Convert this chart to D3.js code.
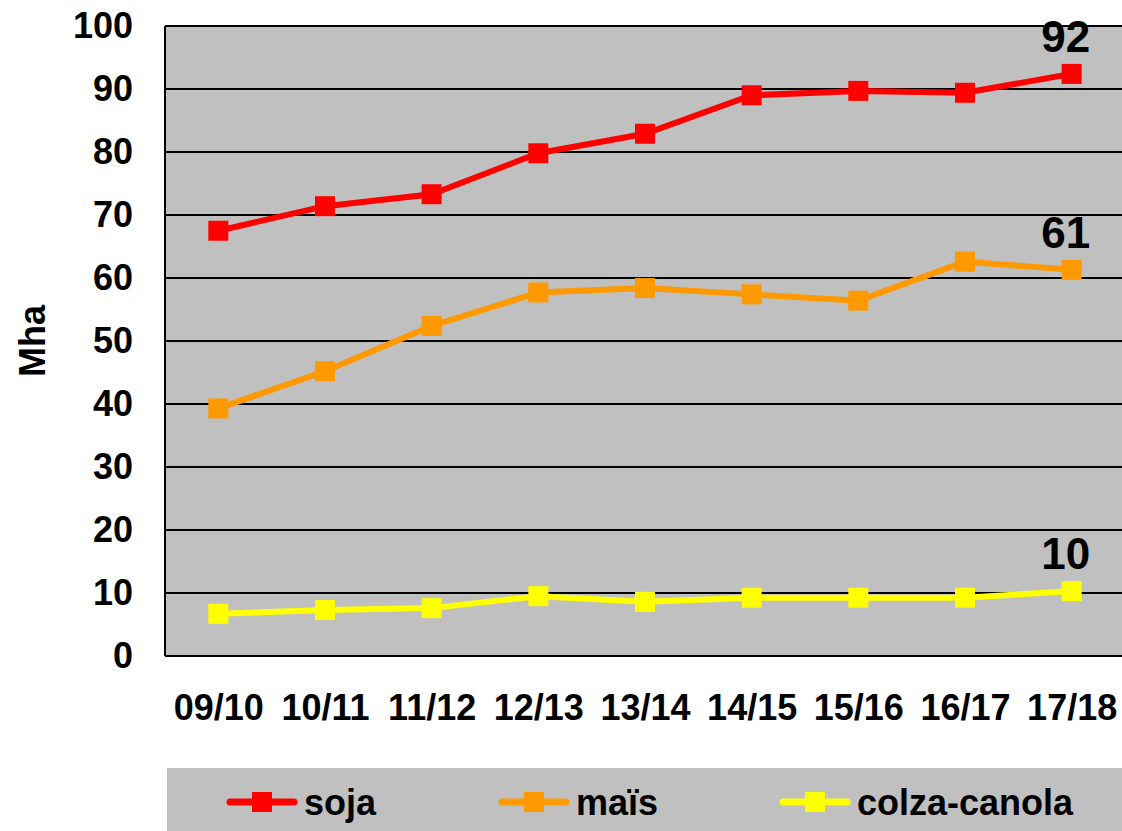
<!DOCTYPE html>
<html>
<head>
<meta charset="utf-8">
<script src="https://cdn.jsdelivr.net/npm/d3@7"></script>
<style>
    body { margin: 0; background: #fff; }
    svg { display: block; font-family: "Liberation Sans", Arial, sans-serif; font-weight: bold; }
</style>
</head>
<body>
<div id="chart-div"></div>
<script>
const campaigns = ["09/10", "10/11", "11/12", "12/13", "13/14", "14/15", "15/16", "16/17", "17/18"];
const soja = [67.5, 71.4, 73.3, 79.8, 82.9, 89.0, 89.7, 89.4, 92.4];
const mais = [39.3, 45.2, 52.4, 57.7, 58.4, 57.4, 56.4, 62.6, 61.3];
const colza = [6.7, 7.3, 7.6, 9.5, 8.6, 9.25, 9.25, 9.25, 10.3];
const yTicks = [0, 10, 20, 30, 40, 50, 60, 70, 80, 90, 100];
const endLabels = ["92", "61", "10"];

const WIDTH = 1122;
const HEIGHT = 831;
const PLOT_LEFT = 165;
const PLOT_RIGHT = 1125;
const PLOT_TOP = 26;
const PLOT_BOTTOM = 656;

const series = [
    { name: "soja", values: soja, color: "#ff0000", legendX: 230 },
    { name: "maïs", values: mais, color: "#ff9900", legendX: 502 },
    { name: "colza-canola", values: colza, color: "#ffff00", legendX: 783 }
];

let svg = d3.select("#chart-div")
    .append("svg")
    .attr("width", WIDTH)
    .attr("height", HEIGHT);

let xScale = d3.scalePoint()
    .domain(campaigns)
    .range([PLOT_LEFT, PLOT_RIGHT])
    .padding(0.5);

let yScale = d3.scaleLinear()
    .domain([0, 100])
    .range([PLOT_BOTTOM, PLOT_TOP]);

// plot background
svg.append("rect")
    .attr("x", PLOT_LEFT)
    .attr("y", PLOT_TOP)
    .attr("width", PLOT_RIGHT - PLOT_LEFT)
    .attr("height", PLOT_BOTTOM - PLOT_TOP)
    .attr("fill", "#c0c0c0");

// gridlines
svg.append("g")
    .selectAll("line")
    .data(yTicks)
    .enter()
    .append("line")
    .attr("x1", PLOT_LEFT)
    .attr("x2", PLOT_RIGHT)
    .attr("y1", d => yScale(d))
    .attr("y2", d => yScale(d))
    .attr("stroke", "#000")
    .attr("stroke-width", 2);

// left axis line
svg.append("line")
    .attr("x1", PLOT_LEFT)
    .attr("x2", PLOT_LEFT)
    .attr("y1", PLOT_TOP)
    .attr("y2", PLOT_BOTTOM)
    .attr("stroke", "#000")
    .attr("stroke-width", 2);

// y axis labels
let yAxis = svg.append("g")
    .attr("transform", "translate(" + PLOT_LEFT + ",0)")
    .call(d3.axisLeft(yScale).tickValues(yTicks).tickSize(0).tickPadding(32));
yAxis.select(".domain").remove();
yAxis.selectAll("text")
    .attr("font-size", 36)
    .attr("font-family", "Liberation Sans, Arial, sans-serif")
    .attr("font-weight", "bold")
    .attr("fill", "#000");

// x axis labels
let xAxis = svg.append("g")
    .attr("transform", "translate(0," + PLOT_BOTTOM + ")")
    .call(d3.axisBottom(xScale).tickSize(0).tickPadding(38));
xAxis.select(".domain").remove();
xAxis.selectAll("text")
    .attr("font-size", 36)
    .attr("font-family", "Liberation Sans, Arial, sans-serif")
    .attr("font-weight", "bold")
    .attr("fill", "#000");

// y title
svg.append("text")
    .attr("transform", "translate(45,341)rotate(-90)")
    .attr("text-anchor", "middle")
    .attr("font-size", 36)
    .text("Mha");

let line = d3.line()
    .x((d, i) => xScale(campaigns[i]))
    .y(d => yScale(d));

series.forEach((s) => {
    svg.append("path")
        .datum(s.values)
        .attr("d", line)
        .attr("fill", "none")
        .attr("stroke", s.color)
        .attr("stroke-width", 6);

    svg.append("g")
        .selectAll("rect")
        .data(s.values)
        .enter()
        .append("rect")
        .attr("x", (d, i) => xScale(campaigns[i]) - 10)
        .attr("y", d => yScale(d) - 10)
        .attr("width", 20)
        .attr("height", 20)
        .attr("fill", s.color);
});

// end-of-line labels
svg.append("g")
    .selectAll("text")
    .data(series)
    .enter()
    .append("text")
    .attr("x", xScale(campaigns[campaigns.length - 1]) - 6)
    .attr("y", d => yScale(d.values[d.values.length - 1]) - 22)
    .attr("text-anchor", "middle")
    .attr("font-size", 44)
    .text((d, i) => endLabels[i]);

// legend
let legend = svg.append("g");
legend.append("rect")
    .attr("x", 167)
    .attr("y", 768)
    .attr("width", WIDTH - 167)
    .attr("height", HEIGHT - 768)
    .attr("fill", "#c0c0c0");

let legendItems = legend.selectAll("g")
    .data(series)
    .enter()
    .append("g")
    .attr("transform", d => "translate(" + d.legendX + ",802)");

legendItems.append("line")
    .attr("x1", 0)
    .attr("x2", 64)
    .attr("stroke", d => d.color)
    .attr("stroke-width", 7)
    .attr("stroke-linecap", "round");

legendItems.append("rect")
    .attr("x", 22)
    .attr("y", -10)
    .attr("width", 20)
    .attr("height", 20)
    .attr("fill", d => d.color);

legendItems.append("text")
    .attr("x", 74)
    .attr("y", 13)
    .attr("font-size", 36)
    .text(d => d.name);
</script>
</body>
</html>
